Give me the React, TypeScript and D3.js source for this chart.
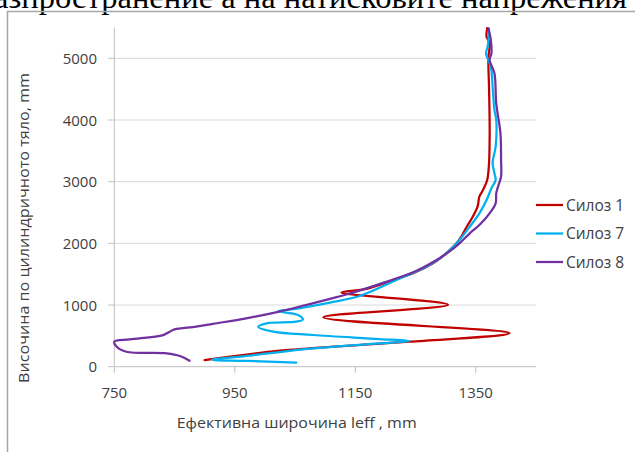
import * as d3 from 'd3';

// [ширина leff, mm ; височина, mm]
const silo1: [number, number][] = [
  [900, 108], [1025, 259], [1240, 405], [1406, 545], [1097, 800], [1304, 1005],
  [1127, 1203], [1168, 1262], [1213, 1406], [1246, 1514], [1279, 1676], [1301, 1838],
  [1318, 2000], [1326, 2108], [1335, 2270], [1345, 2432], [1353, 2594], [1356, 2757],
  [1362, 2865], [1369, 3027], [1372, 3298], [1373, 3676], [1373, 4000], [1372, 4540],
  [1371, 5000], [1373, 5250], [1368, 5350], [1369, 5490],
];

const silo7: [number, number][] = [
  [1052, 65], [970, 95], [912, 112], [975, 180], [1080, 297], [1190, 378], [1240, 416],
  [1190, 449], [1080, 514], [1014, 568], [989, 649], [1003, 703], [1052, 730], [1063, 765],
  [1055, 838], [1030, 885], [1022, 903], [1041, 925], [1108, 1040], [1157, 1146],
  [1218, 1405], [1273, 1649], [1301, 1838], [1320, 2020], [1340, 2270], [1356, 2487],
  [1368, 2703], [1376, 2893], [1383, 3027], [1381, 3136], [1378, 3300], [1383, 3568],
  [1384, 4000], [1381, 4163], [1378, 4540], [1375, 4865], [1367, 5080], [1370, 5200],
  [1372, 5480],
];

const silo8: [number, number][] = [
  [875, 97], [859, 173], [837, 216], [770, 243], [754, 324], [750, 405], [776, 443],
  [831, 513], [842, 568], [850, 605], [886, 649], [914, 695], [969, 785], [1022, 890],
  [1068, 1000], [1108, 1100], [1135, 1170], [1190, 1340], [1246, 1530], [1285, 1730],
  [1306, 1865], [1323, 2000], [1340, 2163], [1356, 2298], [1373, 2487], [1383, 2649],
  [1384, 2811], [1387, 2919], [1392, 3081], [1392, 3352], [1391, 3784], [1384, 4271],
  [1381, 4757], [1373, 4973], [1376, 5081], [1375, 5297], [1371, 5487],
];

const seriesNames = ['Силоз 1', 'Силоз 7', 'Силоз 8'];
const seriesColors = ['#C00000', '#00B0F0', '#7030A0'];
const xTicks = [750, 950, 1150, 1350];
const yTicks = [0, 1000, 2000, 3000, 4000, 5000];

const W = 635;
const H = 452;
const font = '"Open Sans", "Noto Sans", sans-serif';

export default function App() {
  const x = d3.scaleLinear().domain([750, 1450]).range([114.3, 536]);
  const y = d3.scaleLinear().domain([0, 5500]).range([366.7, 27.5]);

  const line = d3
    .line<[number, number]>()
    .x((d) => x(d[0]))
    .y((d) => y(d[1]))
    .curve(d3.curveCatmullRom.alpha(0.5));

  const all = [silo1, silo7, silo8];

  return (
    <svg
      width={W}
      height={H}
      style={{ position: 'absolute', left: 0, top: 0, background: '#fff' }}
    >
      {/* обрязан заглавен ред от документа */}
      <text
        x={-6}
        y={8}
        fontFamily='"Liberation Serif", serif'
        fontSize={32}
        textLength={633}
        lengthAdjust="spacingAndGlyphs"
        fill="#000"
      >
        азпространение а на натисковите напрежения
      </text>

      <rect x={7.5} y={11.5} width={700} height={500} fill="none" stroke="#a6a6a6" strokeWidth={1.5} />

      {/* grid */}
      {yTicks.slice(1).map((t) => (
        <line key={t} x1={x(750)} x2={x(1450)} y1={y(t)} y2={y(t)} stroke="#d9d9d9" strokeWidth={1} />
      ))}

      {/* axes */}
      <line x1={x(750)} x2={x(750)} y1={y(5500)} y2={y(0)} stroke="#bfbfbf" strokeWidth={1} />
      <line x1={x(750)} x2={x(1450)} y1={y(0)} y2={y(0)} stroke="#bfbfbf" strokeWidth={1} />
      {yTicks.map((t) => (
        <g key={t}>
          <line x1={x(750) - 6} x2={x(750)} y1={y(t)} y2={y(t)} stroke="#bfbfbf" />
          <text
            x={97}
            y={y(t) + 5.5}
            textAnchor="end"
            fontFamily={font}
            fontSize={15}
            fill="#404040"
          >
            {t}
          </text>
        </g>
      ))}
      {xTicks.map((t) => (
        <g key={t}>
          <line x1={x(t)} x2={x(t)} y1={y(0)} y2={y(0) + 6} stroke="#bfbfbf" />
          <text x={x(t)} y={398} textAnchor="middle" fontFamily={font} fontSize={15} fill="#404040">
            {t}
          </text>
        </g>
      ))}

      <text
        x={296.7}
        y={428}
        textAnchor="middle"
        fontFamily={font}
        fontSize={15}
        textLength={240}
        lengthAdjust="spacingAndGlyphs"
        fill="#404040"
      >
        Ефективна широчина leff , mm
      </text>
      <text
        transform="translate(29,228) rotate(-90)"
        textAnchor="middle"
        fontFamily={font}
        fontSize={15}
        textLength={310}
        lengthAdjust="spacingAndGlyphs"
        fill="#404040"
      >
        Височина по цилиндричното тяло, mm
      </text>

      {all.map((s, i) => (
        <path
          key={seriesNames[i]}
          d={line(s) ?? ''}
          fill="none"
          stroke={seriesColors[i]}
          strokeWidth={2.25}
          strokeLinejoin="round"
          strokeLinecap="round"
        />
      ))}

      {/* legend */}
      {seriesNames.map((n, i) => {
        const ly = 205 + i * 28.5;
        return (
          <g key={n}>
            <line x1={536} x2={563} y1={ly} y2={ly} stroke={seriesColors[i]} strokeWidth={2.25} />
            <text x={566} y={ly + 5.5} fontFamily={font} fontSize={15.5} fill="#404040">
              {n}
            </text>
          </g>
        );
      })}
    </svg>
  );
}
